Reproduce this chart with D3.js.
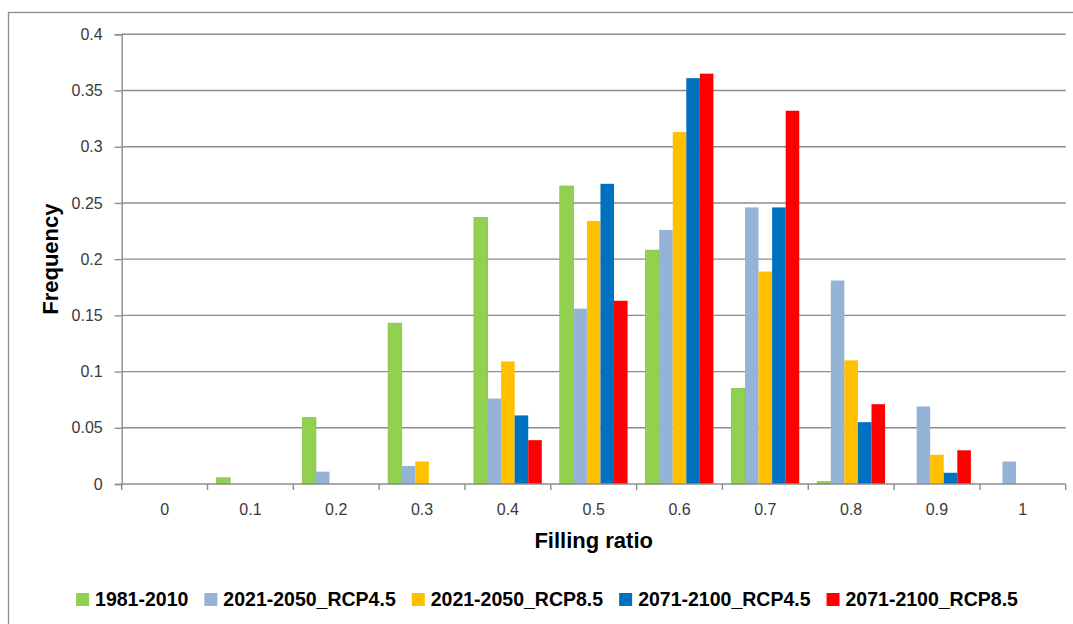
<!DOCTYPE html>
<html>
<head>
<meta charset="utf-8">
<script src="https://cdn.jsdelivr.net/npm/d3@7"></script>
<style>
  html, body { margin: 0; padding: 0; background: #fff; }
  svg { display: block; }
  text { font-family: "Liberation Sans", Arial, sans-serif; }
</style>
</head>
<body>
<svg id="chart" width="1073" height="624"></svg>
<script>
// Filling ratio classes (x axis categories)
const categories = ["0", "0.1", "0.2", "0.3", "0.4", "0.5", "0.6", "0.7", "0.8", "0.9", "1"];

// Series names
const seriesNames = ["1981-2010", "2021-2050_RCP4.5", "2021-2050_RCP8.5", "2071-2100_RCP4.5", "2071-2100_RCP8.5"];

// Frequency per class, one array per period / scenario
const freq1981_2010   = [0, 0.0055, 0.059, 0.143, 0.237, 0.265, 0.208, 0.085, 0.002, 0, 0];
const freq2021_rcp45  = [0, 0, 0.011, 0.016, 0.076, 0.156, 0.226, 0.246, 0.181, 0.069, 0.020];
const freq2021_rcp85  = [0, 0, 0, 0.020, 0.109, 0.234, 0.313, 0.189, 0.110, 0.026, 0];
const freq2071_rcp45  = [0, 0, 0, 0, 0.061, 0.267, 0.361, 0.246, 0.055, 0.010, 0];
const freq2071_rcp85  = [0, 0, 0, 0, 0.039, 0.163, 0.365, 0.332, 0.071, 0.030, 0];

// Y axis ticks
const yTicks = [0, 0.05, 0.1, 0.15, 0.2, 0.25, 0.3, 0.35, 0.4];
const yTickLabels = ["0", "0.05", "0.1", "0.15", "0.2", "0.25", "0.3", "0.35", "0.4"];

const seriesValues = [freq1981_2010, freq2021_rcp45, freq2021_rcp85, freq2071_rcp45, freq2071_rcp85];
const seriesColors = ["#92D050", "#95B3D7", "#FFC000", "#0070C0", "#FF0000"];

const svg = d3.select("#chart");
const gridColor = "#8c8c8c";
const labelColor = "#3a3a3a";
const tickFont = "16px";

// Outer chart frame
svg.append("rect")
  .attr("x", 8.5).attr("y", 12.5)
  .attr("width", 1100).attr("height", 700)
  .attr("fill", "none").attr("stroke", "#8c8c8c").attr("stroke-width", 1.3);

const plot = { left: 121.7, right: 1065.7, top: 34.3, bottom: 484 };

const x0 = d3.scaleBand().domain(categories).range([plot.left, plot.right]).padding(0);
const pad = 9;
const x1 = d3.scaleBand().domain(seriesNames).range([pad, x0.bandwidth() - pad]).padding(0);
const y = d3.scaleLinear().domain([0, 0.4]).range([plot.bottom, plot.top]);

// Horizontal gridlines
svg.append("g")
  .selectAll("line")
  .data(yTicks.slice(1))
  .join("line")
  .attr("x1", plot.left).attr("x2", plot.right)
  .attr("y1", d => y(d)).attr("y2", d => y(d))
  .attr("stroke", gridColor).attr("stroke-width", 1.4);

// Bars
const rows = categories.map((c, i) => ({ cat: c, vals: seriesNames.map((s, k) => ({ s, k, v: seriesValues[k][i] })) }));

svg.append("g")
  .selectAll("g")
  .data(rows)
  .join("g")
  .attr("transform", d => `translate(${x0(d.cat)},0)`)
  .selectAll("rect")
  .data(d => d.vals.filter(e => e.v > 0))
  .join("rect")
  .attr("x", d => x1(d.s))
  .attr("width", x1.bandwidth())
  .attr("y", d => y(d.v))
  .attr("height", d => y(0) - y(d.v))
  .attr("fill", d => seriesColors[d.k])
  .attr("stroke", d => d.k === 0 ? "#86bf4a" : "none")
  .attr("stroke-width", 0.8);

// Y axis
const yAxis = d3.axisLeft(y)
  .tickValues(yTicks)
  .tickFormat((d, i) => yTickLabels[i])
  .tickSize(7)
  .tickPadding(12);

const gy = svg.append("g")
  .attr("transform", `translate(${plot.left},0)`)
  .call(yAxis);
gy.select(".domain").attr("stroke", gridColor).attr("stroke-width", 1.4);
gy.selectAll(".tick line").attr("stroke", gridColor).attr("stroke-width", 1.4);
gy.selectAll(".tick text")
  .attr("fill", labelColor)
  .style("font-size", tickFont)
  .style("font-family", "'Liberation Sans', Arial, sans-serif");

// X axis: labels at category centres, tick marks on category boundaries
const xAxis = d3.axisBottom(x0).tickSize(0).tickPadding(20);
const gx = svg.append("g")
  .attr("transform", `translate(0,${plot.bottom})`)
  .call(xAxis);
gx.select(".domain").remove();
gx.selectAll(".tick text")
  .attr("fill", labelColor)
  .style("font-size", tickFont)
  .style("font-family", "'Liberation Sans', Arial, sans-serif");

const boundaries = categories.map(c => x0(c)).concat([x0(categories[categories.length - 1]) + x0.bandwidth()]);
svg.append("line")
  .attr("x1", plot.left).attr("x2", plot.right)
  .attr("y1", plot.bottom).attr("y2", plot.bottom)
  .attr("stroke", gridColor).attr("stroke-width", 1.4);
svg.append("g")
  .selectAll("line")
  .data(boundaries)
  .join("line")
  .attr("x1", d => d).attr("x2", d => d)
  .attr("y1", plot.bottom).attr("y2", plot.bottom + 6)
  .attr("stroke", gridColor).attr("stroke-width", 1.4);

// Axis titles
svg.append("text")
  .attr("x", (plot.left + plot.right) / 2)
  .attr("y", 548)
  .attr("text-anchor", "middle")
  .style("font-size", "22px")
  .style("font-weight", "bold")
  .attr("fill", "#000")
  .text("Filling ratio");

svg.append("text")
  .attr("transform", `translate(58,${(plot.top + plot.bottom) / 2}) rotate(-90)`)
  .attr("text-anchor", "middle")
  .style("font-size", "22px")
  .style("font-weight", "bold")
  .attr("fill", "#000")
  .text("Frequency");

// Legend
const legend = svg.append("g");
const sw = 13, swGap = 6, itemGap = 16;
let cx = 0;
seriesNames.forEach((name, k) => {
  const item = legend.append("g").attr("transform", `translate(${cx},0)`);
  item.append("rect")
    .attr("x", 0).attr("y", 593).attr("width", sw).attr("height", sw)
    .attr("fill", seriesColors[k]);
  const t = item.append("text")
    .attr("x", sw + swGap).attr("y", 606)
    .style("font-size", "19.5px")
    .style("font-weight", "bold")
    .attr("fill", "#000")
    .text(name);
  cx += sw + swGap + t.node().getComputedTextLength() + itemGap;
});
const totalW = cx - itemGap;
legend.attr("transform", `translate(${547 - totalW / 2},0)`);
</script>
</body>
</html>
